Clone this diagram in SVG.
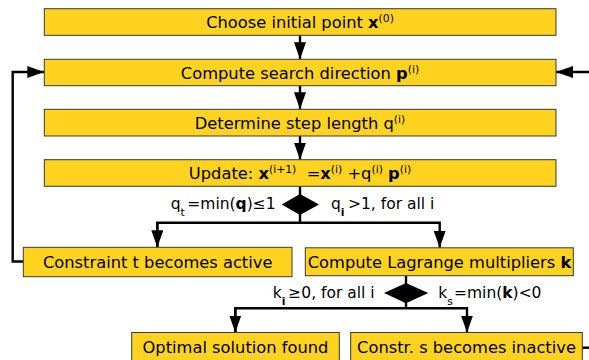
<svg xmlns="http://www.w3.org/2000/svg" width="589" height="360" viewBox="0 0 589 360">
<style>
.box{fill:#FFD320;stroke:#3a3a3a;stroke-width:1}
.t{font-family:"DejaVu Sans",sans-serif;font-size:16.3px;fill:#000}
.l{font-family:"DejaVu Sans",sans-serif;font-size:15.5px;fill:#000}
.c{text-anchor:middle}
.b{font-weight:bold}
.s{font-size:10.8px}
.ln{fill:none;stroke:#000;stroke-width:2.4}
.dia{fill:#000}
</style>
<defs>
<marker id="ah" viewBox="0 0 17 12" refX="17" refY="6" markerWidth="17" markerHeight="12" markerUnits="userSpaceOnUse" orient="auto">
<path d="M0,0 L17,6 L0,12 Z" fill="#000"/>
</marker>
</defs>
<rect width="589" height="360" fill="#fff"/>
<g id="connectors">
<line class="ln" x1="300" y1="35.3" x2="300" y2="59.3" marker-end="url(#ah)"/>
<line class="ln" x1="300" y1="85.7" x2="300" y2="109.3" marker-end="url(#ah)"/>
<line class="ln" x1="300" y1="136" x2="300" y2="159.7" marker-end="url(#ah)"/>
<line class="ln" x1="300" y1="186.3" x2="300" y2="195"/>
<line class="ln" x1="300" y1="214" x2="300" y2="222.7"/>
<polyline class="ln" points="157.3,247.3 157.3,222.7 439.7,222.7 439.7,247.8" marker-end="url(#ah)"/>
<line class="ln" x1="157.3" y1="222.7" x2="157.3" y2="247.3" marker-end="url(#ah)"/>
<polyline class="ln" points="23.3,261.5 12.7,261.5 12.7,72 44.3,72" marker-end="url(#ah)"/>
<line class="ln" x1="589" y1="72" x2="556" y2="72" marker-end="url(#ah)"/>
<line class="ln" x1="406" y1="275.7" x2="406" y2="284"/>
<line class="ln" x1="406" y1="302.5" x2="406" y2="308.3"/>
<polyline class="ln" points="235.3,332.5 235.3,308.3 467,308.3 467,332.5" marker-end="url(#ah)"/>
<line class="ln" x1="235.3" y1="308.3" x2="235.3" y2="332.5" marker-end="url(#ah)"/>
<line class="ln" x1="582.3" y1="347.7" x2="589" y2="347.7"/>
</g>
<g id="n1"><rect class="box" x="44.3" y="8.7" width="511.7" height="26.6"/>
<text class="t c" x="300" y="28.3">Choose initial point <tspan class="b">x</tspan><tspan class="s" dy="-6">(0)</tspan></text></g>
<g id="n2"><rect class="box" x="44.3" y="59.3" width="511.7" height="26.4"/>
<text class="t c" x="300" y="78.7">Compute search direction <tspan class="b">p</tspan><tspan class="s" dy="-6">(i)</tspan></text></g>
<g id="n3"><rect class="box" x="44.3" y="109.3" width="511.7" height="26.7"/>
<text class="t c" x="300" y="128.9">Determine step length q<tspan class="s" dy="-6">(i)</tspan></text></g>
<g id="n4"><rect class="box" x="44.3" y="159.7" width="511.7" height="26.6"/>
<text class="t c" x="300" y="179.3">Update: <tspan class="b">x</tspan><tspan class="s" dy="-6">(i+1)</tspan><tspan dy="6">&#160; =</tspan><tspan class="b">x</tspan><tspan class="s" dy="-6">(i)</tspan><tspan dy="6"> +q</tspan><tspan class="s" dy="-6">(i)</tspan><tspan dy="6"> </tspan><tspan class="b">p</tspan><tspan class="s" dy="-6">(i)</tspan></text></g>
<g id="d1"><polygon class="dia" points="300,194 319,204.5 300,215 281.7,204.5"/>
<text class="l" x="170.7" y="209.3">q<tspan class="s" dy="6.5">t</tspan><tspan x="187.3" dy="-6.5">=min(</tspan><tspan class="b">q</tspan>)≤1</text>
<text class="l" x="331" y="209.3">q<tspan class="s b" dy="6.5">i</tspan><tspan x="348" dy="-6.5">&gt;1, for all i</tspan></text></g>
<g id="n5"><rect class="box" x="23.3" y="247.3" width="268.7" height="29.4"/>
<text class="t c" x="157.7" y="268.3">Constraint t becomes active</text></g>
<g id="n6"><rect class="box" x="305.3" y="247.8" width="268" height="27.9"/>
<text class="t c" x="439.5" y="268.3">Compute Lagrange multipliers <tspan class="b">k</tspan></text></g>
<g id="d2"><polygon class="dia" points="406,283 428.3,293 406,303.3 384,293"/>
<text class="l" x="272.7" y="298.3">k<tspan class="s b" dy="6.5">i</tspan><tspan x="288.3" dy="-6.5">≥0, for all i</tspan></text>
<text class="l" x="438.3" y="298.3">k<tspan class="s" dy="6.5">s</tspan><tspan x="454" dy="-6.5">=min(</tspan><tspan class="b">k</tspan>)&lt;0</text></g>
<g id="n7"><rect class="box" x="131.7" y="332.5" width="207.6" height="30"/>
<text class="t c" x="235.5" y="353.3">Optimal solution found</text></g>
<g id="n8"><rect class="box" x="350.7" y="332.5" width="231.6" height="30"/>
<text class="t c" x="466.5" y="353.3">Constr. s becomes inactive</text></g>
</svg>
